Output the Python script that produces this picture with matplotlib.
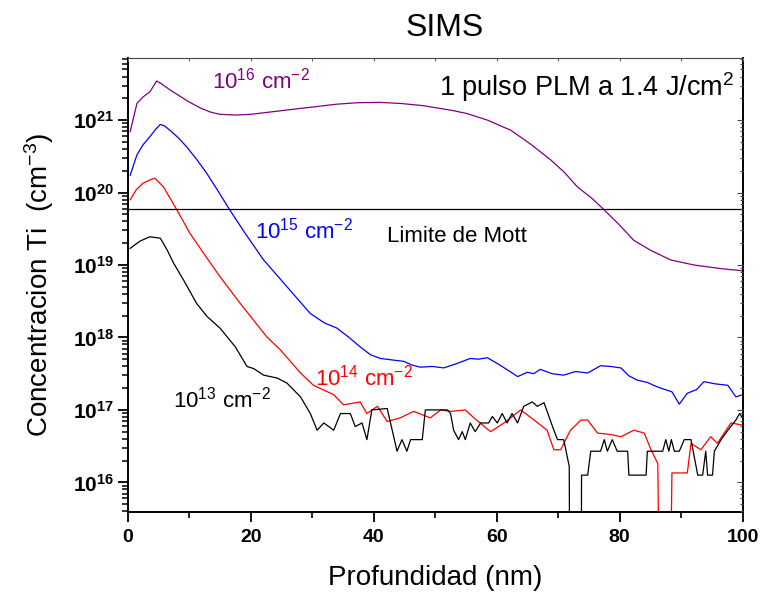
import numpy as np
import matplotlib
matplotlib.use("Agg")
import matplotlib.pyplot as plt
from matplotlib.ticker import FixedLocator, FuncFormatter, MultipleLocator, NullFormatter

plt.rcParams['font.family'] = ['Liberation Sans', 'DejaVu Sans']
plt.rcParams['mathtext.fontset'] = 'custom'
plt.rcParams['mathtext.rm'] = 'Liberation Sans'
plt.rcParams['mathtext.it'] = 'Liberation Sans:italic'
plt.rcParams['mathtext.bf'] = 'Liberation Sans:bold'

# dose 1e16 cm-2 (purple) : depth (nm) and log10 concentration
x16 = [0.4, 1.5, 2.5, 3.6, 4.7, 5.5, 7, 8.5, 10, 12, 13.5, 15, 17.5, 20, 23, 25.9, 30, 34,
       37.3, 41, 44.4, 48, 50.9, 53, 55.2, 58.5, 62.3, 65.5, 68.8, 71, 73.1, 75.5, 77.5,
       80, 82.3, 85.1, 88.3, 92.1, 96.5, 100]
l16 = [20.84, 21.23, 21.32, 21.39, 21.54, 21.50, 21.41, 21.33, 21.25, 21.16, 21.11, 21.08,
       21.07, 21.08, 21.11, 21.14, 21.18, 21.22, 21.24, 21.245, 21.23, 21.2, 21.16, 21.13,
       21.09, 21.0, 20.86, 20.67, 20.45, 20.28, 20.08, 19.92, 19.76, 19.55, 19.34, 19.2,
       19.07, 19.0, 18.95, 18.92]

# dose 1e15 cm-2 (blue)
x15 = [0.4, 1.5, 2.5, 3.6, 4.5, 5.3, 6, 7, 8.3, 9.6, 11.2, 12.9, 14.7, 16.6, 19, 22.1, 25.9,
       29.7, 32, 34.0, 36, 37.8, 39.5, 41.1, 43, 44.9, 46.2, 47.6, 49.5, 51.4, 53.5, 55.7,
       57, 58.5, 60.5, 61.8, 63.4, 65, 66, 67.1, 69, 70.9, 72.8, 74.8, 76.9, 78.5, 80.2,
       81.5, 82.9, 84.5, 85.5, 86.7, 88.5, 89.7, 91.0, 92.5, 93.7, 95.5, 97.6, 98.9, 100]
l15 = [20.24, 20.52, 20.66, 20.77, 20.87, 20.94, 20.92, 20.85, 20.75, 20.63, 20.46, 20.26,
       20.02, 19.76, 19.45, 19.07, 18.70, 18.33, 18.2, 18.13, 18.0, 17.87, 17.76, 17.71,
       17.69, 17.67, 17.62, 17.59, 17.6, 17.58, 17.64, 17.71, 17.7, 17.72, 17.62, 17.55,
       17.46, 17.52, 17.5, 17.56, 17.50, 17.48, 17.53, 17.51, 17.61, 17.60, 17.58, 17.47,
       17.41, 17.38, 17.34, 17.30, 17.25, 17.08, 17.23, 17.28, 17.39, 17.36, 17.34, 17.18,
       17.21]

# dose 1e14 cm-2 (red), 12 = no counts
x14 = [0.4, 1.4, 2.5, 3.5, 4.4, 5.8, 8.0, 10.1, 13.1, 15.0, 18.3, 22.6, 24.8, 28.1, 30.2,
       33.5, 35.1, 37.8, 38.9, 40.6, 42.2, 44.3, 46.5, 49.2, 50.9, 52.5, 54.9, 56.3, 59.0,
       61.2, 63.9, 66.1, 68.2, 69.3, 70.4, 72.0, 73.7, 74.8, 76.4, 78.6, 80.2, 82.3, 84.0,
       85.1, 86.2, 86.8, 87.9, 88.5, 91.0, 91.6, 93.2, 94.8, 95.9, 98.1, 100]
l14 = [19.90, 20.04, 20.13, 20.17, 20.20, 20.08, 19.76, 19.44, 19.07, 18.84, 18.47, 18.01,
       17.83, 17.51, 17.34, 17.21, 17.07, 17.11, 16.95, 17.05, 16.84, 16.89, 16.98, 16.89,
       17.0, 16.98, 17.0, 16.89, 16.70, 16.82, 17.0, 16.86, 16.72, 16.45, 16.45, 16.72,
       16.86, 16.86, 16.68, 16.66, 16.63, 16.72, 16.68, 16.45, 16.26, 12, 12, 16.13, 16.13,
       16.54, 16.45, 16.63, 16.54, 16.82, 16.79]

# dose 1e13 cm-2 (black)
x13 = [0.4, 2, 3.6, 5.3, 6.4, 7.5, 9.1, 11.2, 12.9, 15.0, 17.5, 19.4, 20.5, 22.1, 24.3,
       25.9, 28.1, 29.7, 30.8, 31.9, 33.5, 34.6, 36.2, 37.0, 38.1, 38.9, 39.7, 42.2, 43.8,
       44.6, 45.4, 46.0, 47.9, 48.4, 52.0, 52.5, 53.0, 53.8, 54.4, 54.9, 55.7, 56.5, 57.4,
       58.7, 59.3, 60.1, 60.9, 61.7, 62.5, 63.4, 64.4, 65.8, 66.6, 67.7, 68.5, 69.3, 69.9,
       70.9, 71.8, 72.0, 73.7, 73.8, 74.8, 75.3, 76.9, 77.5, 78.0, 78.8, 79.6, 81.3, 81.5,
       84.3, 84.5, 87.0, 87.5, 88.0, 88.4, 88.9, 89.7, 90.5, 91.6, 92.7, 93.5, 94.0, 94.3,
       95.1, 95.4, 96.5, 97.6, 98.9, 99.5, 100]
l13 = [19.23, 19.33, 19.39, 19.37, 19.21, 19.02, 18.79, 18.47, 18.29, 18.13, 17.87, 17.60,
       17.57, 17.48, 17.44, 17.37, 17.18, 16.95, 16.72, 16.82, 16.72, 16.95, 16.95, 16.77,
       16.82, 16.59, 17.0, 17.02, 16.43, 16.59, 16.43, 16.59, 16.59, 17.0, 17.0, 16.95,
       16.72, 16.59, 16.70, 16.59, 16.82, 16.70, 16.82, 16.82, 16.91, 16.82, 16.95, 16.82,
       16.95, 16.82, 17.05, 17.11, 17.05, 17.10, 16.91, 16.72, 16.59, 16.59, 16.22, 12, 12,
       16.10, 16.10, 16.43, 16.43, 16.59, 16.43, 16.59, 16.43, 16.43, 16.10, 16.10, 16.43,
       16.43, 16.59, 16.43, 16.59, 16.43, 16.43, 16.59, 16.59, 16.10, 16.10, 16.43, 16.10,
       16.10, 16.43, 16.59, 16.72, 16.86, 16.95, 16.89]

mott = 6e19

fig = plt.figure(figsize=(7.62, 5.95), dpi=100)
ax = fig.add_axes([0.1676, 0.1395, 0.807, 0.763])

ax.plot(x16, 10 ** np.array(l16), color='#800080', lw=0.9)
ax.plot(x15, 10 ** np.array(l15), color='blue', lw=0.9)
ax.plot(x14, 10 ** np.array(l14), color='red', lw=0.9)
ax.plot(x13, 10 ** np.array(l13), color='black', lw=0.9)
ax.axhline(mott, color='black', lw=0.9)

ax.set_yscale('log')
ax.set_xlim(0, 100)
ax.set_ylim(3.9e15, 7.2e21)

ax.xaxis.set_major_locator(MultipleLocator(20))
ax.xaxis.set_minor_locator(MultipleLocator(10))
ax.yaxis.set_major_locator(FixedLocator([1e16, 1e17, 1e18, 1e19, 1e20, 1e21]))
minor_y = [m * 10.0 ** d for d in range(15, 22) for m in range(2, 10)]
ax.yaxis.set_minor_locator(FixedLocator(minor_y))
ax.yaxis.set_minor_formatter(NullFormatter())
ax.yaxis.set_major_formatter(FuncFormatter(lambda v, p: r'$\mathbf{10^{%d}}$' % round(np.log10(v))))
ax.xaxis.set_major_formatter(FuncFormatter(lambda v, p: '%d' % v))

# outward ticks on left/bottom
ax.tick_params(axis='x', which='major', direction='out', length=7, width=1.3,
               labelsize=14, pad=5)
ax.tick_params(axis='x', which='minor', direction='out', length=4.5, width=1.2)
ax.tick_params(axis='y', which='major', direction='out', length=7, width=1.3,
               labelsize=15, pad=3)
ax.tick_params(axis='y', which='minor', direction='out', length=4, width=1.1)
for lab in ax.get_xticklabels():
    lab.set_fontweight('bold')

for s in ['left', 'bottom', 'right']:
    ax.spines[s].set_linewidth(1.4)
ax.spines['top'].set_linewidth(0.8)
ax.spines['top'].set_color('#444444')

# short inward ticks on the right and top, no labels
axr = ax.twinx()
axr.set_yscale('log')
axr.set_ylim(ax.get_ylim())
axr.yaxis.set_major_locator(FixedLocator([1e16, 1e17, 1e18, 1e19, 1e20, 1e21]))
axr.yaxis.set_minor_locator(FixedLocator(minor_y))
axr.tick_params(axis='y', which='both', direction='in', labelright=False, width=0.8,
                color='#444444')
axr.tick_params(axis='y', which='major', length=4)
axr.tick_params(axis='y', which='minor', length=2.5)
axt = ax.twiny()
axt.set_xlim(ax.get_xlim())
axt.xaxis.set_major_locator(MultipleLocator(20))
axt.xaxis.set_minor_locator(MultipleLocator(10))
axt.tick_params(axis='x', which='both', direction='in', labeltop=False, width=0.8,
                length=2.5, color='#666666')
for a in (axr, axt):
    for s in a.spines.values():
        s.set_visible(False)

ax.set_xlabel('Profundidad (nm)', fontsize=20, labelpad=14)
ax.set_ylabel(r'Concentracion Ti  (cm$^{-3}$)', fontsize=20, labelpad=12)
fig.text(0.5833, 0.953, 'SIMS', fontsize=23, ha='center', va='center')

ax.text(13.7, 10 ** 21.44, r'10$^{16}$ cm$^{-2}$', color='#800080', fontsize=16)
ax.text(20.7, 10 ** 19.37, r'10$^{15}$ cm$^{-2}$', color='blue', fontsize=16)
ax.text(42.2, 10 ** 19.32, 'Limite de Mott', color='black', fontsize=16)
ax.text(30.5, 10 ** 17.34, r'10$^{14}$ cm$^{-2}$', color='red', fontsize=16)
ax.text(7.3, 10 ** 17.03, r'10$^{13}$ cm$^{-2}$', color='black', fontsize=16)
ax.text(98.6, 10 ** 21.33, r'1 pulso PLM a 1.4 J/cm$^{2}$', color='black',
        fontsize=19.5, ha='right')

fig.savefig('out.png', dpi=100)
